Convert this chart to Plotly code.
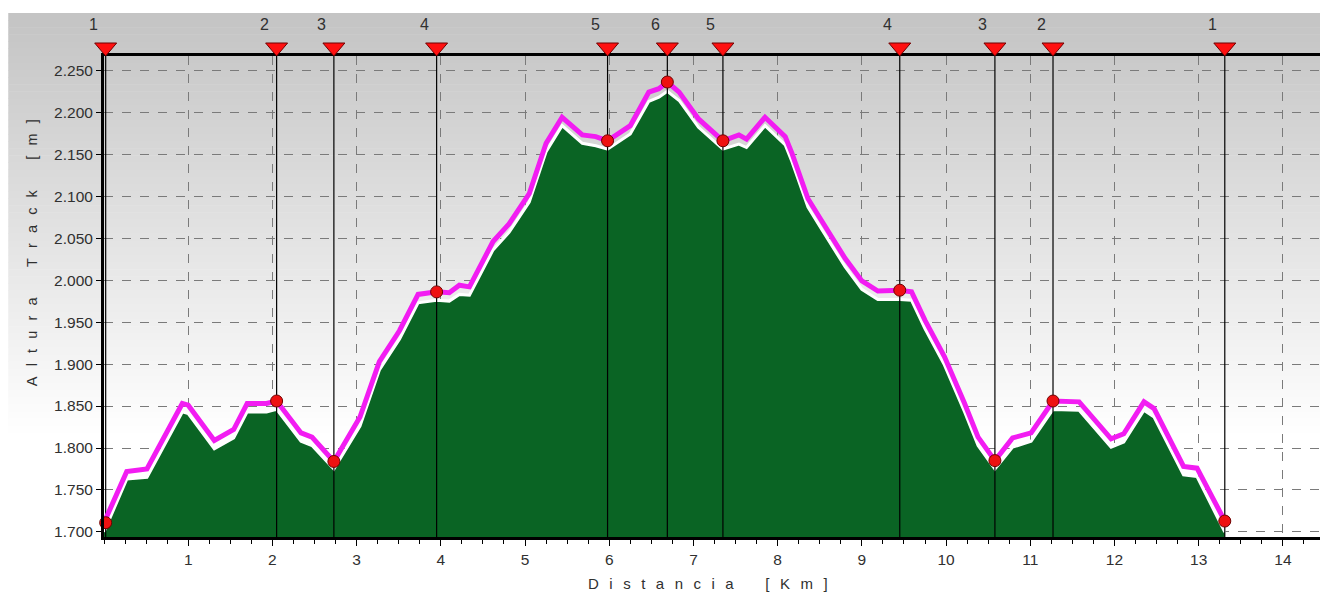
import plotly.graph_objects as go

# ---- data ----
dist_km = [0.00, 0.27, 0.51, 0.93, 1.00, 1.31, 1.54, 1.70, 1.93, 2.05, 2.34, 2.47, 2.73,
           3.04, 3.27, 3.51, 3.73, 3.95, 4.10, 4.22, 4.34, 4.62, 4.81, 5.05, 5.25, 5.44,
           5.68, 5.84, 5.98, 6.25, 6.47, 6.59, 6.69, 6.83, 7.06, 7.22, 7.35, 7.54, 7.63,
           7.85, 8.09, 8.17, 8.36, 8.52, 8.80, 9.00, 9.19, 9.45, 9.59, 9.75, 9.98, 10.22,
           10.38, 10.58, 10.79, 11.01, 11.27, 11.58, 11.96, 12.11, 12.35, 12.47, 12.82,
           12.98, 13.31]
track_alt = [1711, 1772, 1775, 1853, 1851, 1809, 1822, 1853, 1853, 1856, 1818, 1813, 1784,
             1837, 1903, 1940, 1983, 1986, 1985, 1994, 1992, 2046, 2067, 2103, 2163, 2194,
             2173, 2171, 2166, 2184, 2224, 2228, 2236, 2224, 2192, 2177, 2166, 2173, 2168,
             2194, 2171, 2151, 2097, 2071, 2026, 1999, 1987, 1988, 1986, 1952, 1909, 1853,
             1813, 1785, 1812, 1818, 1856, 1855, 1811, 1817, 1855, 1847, 1778, 1776, 1713]
terrain_alt = [1700, 1763, 1765, 1843, 1841, 1799, 1812, 1843, 1843, 1846, 1808, 1803, 1775,
               1826, 1893, 1930, 1973, 1976, 1975, 1983, 1982, 2036, 2057, 2093, 2153, 2184,
               2163, 2160, 2156, 2174, 2213, 2218, 2225, 2214, 2182, 2167, 2156, 2162, 2158,
               2184, 2161, 2141, 2087, 2061, 2016, 1989, 1977, 1977, 1976, 1942, 1899, 1843,
               1803, 1775, 1801, 1808, 1846, 1845, 1801, 1807, 1845, 1837, 1768, 1766, 1700]

wp_km = [0.02, 2.05, 2.73, 3.95, 5.98, 6.69, 7.35, 9.45, 10.58, 11.27, 13.31]
wp_alt = [1711, 1856, 1784, 1986, 2166, 2236, 2166, 1988, 1785, 1856, 1713]
wp_labels = ["1", "2", "3", "4", "5", "6", "5", "4", "3", "2", "1"]

x_ticks = list(range(1, 15))
x_title = "D i s t a n c i a   [ K m ]"
y_title = "A l t u r a   T r a c k   [ m ]"

# ---- geometry (reference pixel coords; page body adds an 8px offset) ----
OFF = 8
W, H = 1328 - OFF, 593 - OFF
PLOT_L, PLOT_R, PLOT_T, PLOT_B = 104, 1328, 56, 537
ML = PLOT_L - OFF
MR = 0
MT = PLOT_T - OFF
MB = H - (PLOT_B - OFF)
PW, PH = W - ML - MR, H - MT - MB
Y_RANGE = [1694, 2267]
X_RANGE = [0, 14.5]


def py2paper(py):
    return (PLOT_B - py) / PH


def px2paper(px):
    return (px - PLOT_L) / PW


def km2domain(k):
    return (k - X_RANGE[0]) / (X_RANGE[1] - X_RANGE[0])


def spaced(s):
    return s.replace(" ", "\u2002\u2009")


FONT = "Liberation Sans, Arial, sans-serif"
TXT = "#303030"
fig = go.Figure()

# terrain (green fill)
fig.add_trace(go.Scatter(x=dist_km, y=terrain_alt, mode="lines", fill="tozeroy",
                         fillcolor="#0a6424", line=dict(color="white", width=3),
                         hoverinfo="skip", showlegend=False))

# vertical waypoint lines
vx, vy = [], []
for k in wp_km:
    vx += [k, k, None]
    vy += [Y_RANGE[0], Y_RANGE[1], None]
fig.add_trace(go.Scatter(x=vx, y=vy, mode="lines",
                         line=dict(color="black", width=1.2), hoverinfo="skip", showlegend=False))

# track line
fig.add_trace(go.Scatter(x=dist_km, y=track_alt, mode="lines",
                         line=dict(color="#f21cf2", width=5), showlegend=False))

# waypoint dots
fig.add_trace(go.Scatter(x=wp_km, y=wp_alt, mode="markers", cliponaxis=False,
                         marker=dict(size=12, color="#ee1111", line=dict(color="#700000", width=1)),
                         showlegend=False))

shapes = []
# background gradient strips
g_top, g_bot = 13, 440
n = 60
for i in range(n):
    y0p = g_top + (g_bot - g_top) * i / n
    y1p = g_top + (g_bot - g_top) * (i + 1) / n
    v = int(round(196 + (255 - 196) * (i + 0.5) / n))
    shapes.append(dict(type="rect", xref="paper", yref="paper",
                       x0=px2paper(OFF), x1=1.0,
                       y0=py2paper(y1p + 0.5), y1=py2paper(y0p),
                       fillcolor=f"rgb({v},{v},{v})", line=dict(width=0), layer="below"))

# top triangles (pixel-sized, anchored at each waypoint on the plot's top edge)
for k in wp_km:
    shapes.append(dict(type="path", xref="x domain", yref="paper",
                       xsizemode="pixel", ysizemode="pixel", xanchor=km2domain(k), yanchor=1.0,
                       path="M -11,13 L 11,13 L 0,0 Z",
                       fillcolor="#ff1010", line=dict(color="#700000", width=1),
                       layer="above"))

annotations = []
for k, lab in zip(wp_km, wp_labels):
    annotations.append(dict(x=k, y=py2paper(24), xref="x", yref="paper", text=lab,
                            showarrow=False, xanchor="center", yanchor="middle",
                            xshift=-12, font=dict(size=16, color=TXT, family=FONT)))
annotations.append(dict(x=px2paper(709), y=py2paper(583), xref="paper", yref="paper",
                        text=spaced(x_title), showarrow=False, xanchor="center", yanchor="middle",
                        font=dict(size=15, color=TXT, family=FONT)))
annotations.append(dict(x=px2paper(32), y=py2paper(253), xref="paper", yref="paper",
                        text=spaced(y_title), showarrow=False, textangle=-90,
                        xanchor="center", yanchor="middle",
                        font=dict(size=14.5, color=TXT, family=FONT)))

fig.update_layout(
    width=W, height=H,
    margin=dict(l=ML, r=MR, t=MT, b=MB, pad=0),
    paper_bgcolor="white", plot_bgcolor="rgba(0,0,0,0)",
    separators=",.",
    shapes=shapes, annotations=annotations,
    font=dict(family=FONT, size=15, color=TXT),
    xaxis=dict(range=X_RANGE, tickmode="array", tickvals=x_ticks,
               ticks="outside", ticklen=6, tickcolor="black", tickwidth=1,
               showline=True, linecolor="black", linewidth=3, mirror=True,
               showgrid=True, gridcolor="#7a7a7a", griddash="dash", gridwidth=1,
               zeroline=False, tickfont=dict(size=15.5, color=TXT),
               minor=dict(dtick=0.25, tick0=0, ticks="outside", ticklen=4,
                          tickcolor="black", showgrid=False)),
    yaxis=dict(range=Y_RANGE, tick0=1700, dtick=50, tickformat=",d",
               ticks="outside", ticklen=5, tickcolor="black",
               showline=True, linecolor="black", linewidth=3, mirror=True,
               showgrid=True, gridcolor="#7a7a7a", griddash="dash", gridwidth=1,
               zeroline=False, tickfont=dict(size=15.5, color=TXT)),
    showlegend=False,
)

fig.write_html("out.html")
